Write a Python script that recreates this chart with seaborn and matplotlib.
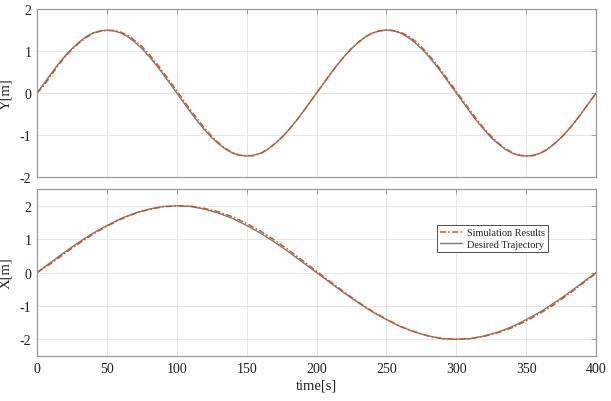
import numpy as np
import pandas as pd
import matplotlib
matplotlib.use("Agg")
import matplotlib.pyplot as plt
import seaborn as sns

# ---- data ----
t_y = list(range(0, 401, 5))
y_desired = [0, .23, .46, .68, .88, 1.06, 1.21, 1.34, 1.43, 1.48, 1.50, 1.48, 1.43, 1.34, 1.21, 1.06, .88, .68, .46, .23,
             0, -.23, -.46, -.68, -.88, -1.06, -1.21, -1.34, -1.43, -1.48, -1.50, -1.48, -1.43, -1.34, -1.21, -1.06, -.88, -.68, -.46, -.23,
             0, .23, .46, .68, .88, 1.06, 1.21, 1.34, 1.43, 1.48, 1.50, 1.48, 1.43, 1.34, 1.21, 1.06, .88, .68, .46, .23,
             0, -.23, -.46, -.68, -.88, -1.06, -1.21, -1.34, -1.43, -1.48, -1.50, -1.48, -1.43, -1.34, -1.21, -1.06, -.88, -.68, -.46, -.23,
             0]
y_sim = [0, .18, .42, .65, .86, 1.04, 1.19, 1.32, 1.42, 1.47, 1.49, 1.49, 1.45, 1.37, 1.25, 1.11, .93, .73, .51, .28,
         .06, -.18, -.41, -.63, -.84, -1.03, -1.19, -1.32, -1.42, -1.48, -1.49, -1.49, -1.44, -1.34, -1.21, -1.06, -.88, -.68, -.46, -.23,
         0, .23, .46, .68, .88, 1.06, 1.21, 1.34, 1.43, 1.48, 1.50, 1.49, 1.45, 1.37, 1.25, 1.10, .92, .72, .50, .27,
         .04, -.19, -.42, -.64, -.85, -1.03, -1.19, -1.32, -1.42, -1.48, -1.50, -1.49, -1.44, -1.34, -1.21, -1.06, -.88, -.68, -.46, -.23,
         0]

t_x = list(range(0, 401, 10))
x_desired = [0, .31, .62, .91, 1.18, 1.41, 1.62, 1.78, 1.90, 1.98, 2.00, 1.98, 1.90, 1.78, 1.62, 1.41, 1.18, .91, .62, .31,
             0, -.31, -.62, -.91, -1.18, -1.41, -1.62, -1.78, -1.90, -1.98, -2.00, -1.98, -1.90, -1.78, -1.62, -1.41, -1.18, -.91, -.62, -.31,
             0]
x_sim = [0, .27, .58, .87, 1.15, 1.39, 1.60, 1.77, 1.89, 1.97, 2.00, 1.99, 1.92, 1.82, 1.67, 1.47, 1.24, .97, .68, .36,
         .04, -.28, -.59, -.89, -1.16, -1.40, -1.61, -1.77, -1.90, -1.98, -2.00, -1.98, -1.91, -1.80, -1.65, -1.45, -1.22, -.96, -.66, -.34,
         -.02]

series_names = ["Simulation Results", "Desired Trajectory"]
x_ticks = list(range(0, 401, 50))
y_ticks = [-2, -1, 0, 1, 2]

# ---- style ----
sns.set_style("white")
plt.rcParams['font.family'] = ['Liberation Serif', 'DejaVu Serif']
plt.rcParams['axes.unicode_minus'] = False

sim_color = "#D95319"
des_color = "#7a7a7a"
frame_color = "#9a9a9a"
text_color = "#222222"

fig = plt.figure(figsize=(6.11, 4.02), dpi=100)
ax1 = fig.add_axes([0.0606, 0.557, 0.915, 0.418])
ax2 = fig.add_axes([0.0606, 0.112, 0.915, 0.415])

df_y = pd.DataFrame({"t": t_y, "Desired": y_desired, "Sim": y_sim})
df_x = pd.DataFrame({"t": t_x, "Desired": x_desired, "Sim": x_sim})

for ax, df in ((ax1, df_y), (ax2, df_x)):
    sns.lineplot(data=df, x="t", y="Desired", ax=ax, color=des_color, lw=1.0,
                 label=series_names[1])
    sns.lineplot(data=df, x="t", y="Sim", ax=ax, color=sim_color, lw=1.1,
                 linestyle=(0, (4, 1.5, 1, 1.5)), label=series_names[0])
    ax.set_xlim(0, 400)
    ax.set_xticks(x_ticks)
    ax.set_yticks(y_ticks)
    ax.grid(True, color="#e6e6e6", lw=0.7)
    ax.tick_params(direction="in", length=3.5, width=0.7, color=frame_color,
                   labelcolor=text_color, labelsize=10, top=True, right=True, pad=4)
    for s in ax.spines.values():
        s.set_color(frame_color)
        s.set_linewidth(0.9)

ax1.set_ylim(-2, 2)
ax2.set_ylim(-2.5, 2.5)
ax1.set_xticklabels([])
ax1.set_xlabel("")
ax1.set_ylabel("Y[m]", fontsize=10.5, color=text_color)
ax2.set_ylabel("X[m]", fontsize=10.5, color=text_color)
ax1.yaxis.set_label_coords(-0.044, 0.5)
ax2.yaxis.set_label_coords(-0.044, 0.5)
ax2.set_xlabel("time[s]", fontsize=10.5, labelpad=3, color=text_color)
ax1.get_legend().remove()

handles, labels = ax2.get_legend_handles_labels()
order = [labels.index(series_names[0]), labels.index(series_names[1])]
ax2.legend([handles[i] for i in order], [labels[i] for i in order],
           loc="upper left", bbox_to_anchor=(0.715, 0.785), fontsize=7.4,
           frameon=True, fancybox=False, edgecolor="#333333", framealpha=1,
           handlelength=2.2, handletextpad=0.4, borderpad=0.3, labelspacing=0.2,
           borderaxespad=0)
ax2.get_legend().get_frame().set_linewidth(0.6)

fig.savefig("out.png", dpi=100)
